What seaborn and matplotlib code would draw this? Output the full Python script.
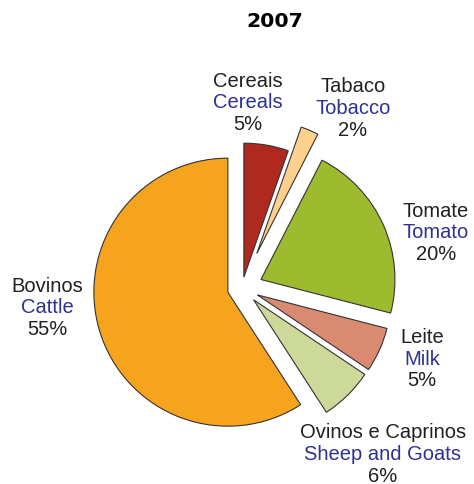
import matplotlib
matplotlib.use("Agg")
import matplotlib.pyplot as plt
import seaborn as sns

# ---- data ----
labels_pt = ["Cereais", "Tabaco", "Tomate", "Leite", "Ovinos e Caprinos", "Bovinos"]
labels_en = ["Cereals", "Tobacco", "Tomato", "Milk", "Sheep and Goats", "Cattle"]
shares = [5, 2, 20, 5, 6, 55]
title = "2007"

# ---- style ----
colors = ["#B0291F", "#FDD08D", "#9EBA2F", "#D98A71", "#CDD998", "#F6A31E"]
radius = 134
explode_frac = [0.082, 0.28, 0.155, 0.125, 0.123, 0.11]
# label anchor (pixel x, baseline pixel y of first line)
label_pos = [(248, 86.7), (353, 92.3), (436, 216.7), (422, 343.3), (383, 438.5), (47, 291.7)]
line_gap = 21.6

W, H = 474, 485
sns.set_theme(style="white")
plt.rcParams["font.family"] = ["Liberation Sans", "DejaVu Sans"]

fig = plt.figure(figsize=(W / 100, H / 100), dpi=100)
ax = fig.add_axes([0, 0, 1, 1])
ax.pie(shares, colors=colors, explode=[e * radius for e in explode_frac],
       startangle=90, counterclock=False,
       center=(242, H - 289), radius=radius,
       wedgeprops=dict(edgecolor="#333333", linewidth=0.8))
ax.set_xlim(0, W)
ax.set_ylim(0, H)
ax.set_aspect("equal")
ax.axis("off")

fs = 14.5
for (x, y), pt, en, v in zip(label_pos, labels_pt, labels_en, shares):
    ax.text(x, H - y, pt, ha="center", va="baseline", fontsize=fs, color="#231F20")
    ax.text(x, H - (y + line_gap), en, ha="center", va="baseline", fontsize=fs, color="#2E3192")
    ax.text(x, H - (y + 2 * line_gap), f"{v}%", ha="center", va="baseline", fontsize=fs, color="#231F20")

ax.text(275, H - 27.3, title, ha="center", va="baseline", fontsize=14.7,
        fontweight="bold", family="DejaVu Sans", color="black")

fig.savefig("out.png", dpi=100)
